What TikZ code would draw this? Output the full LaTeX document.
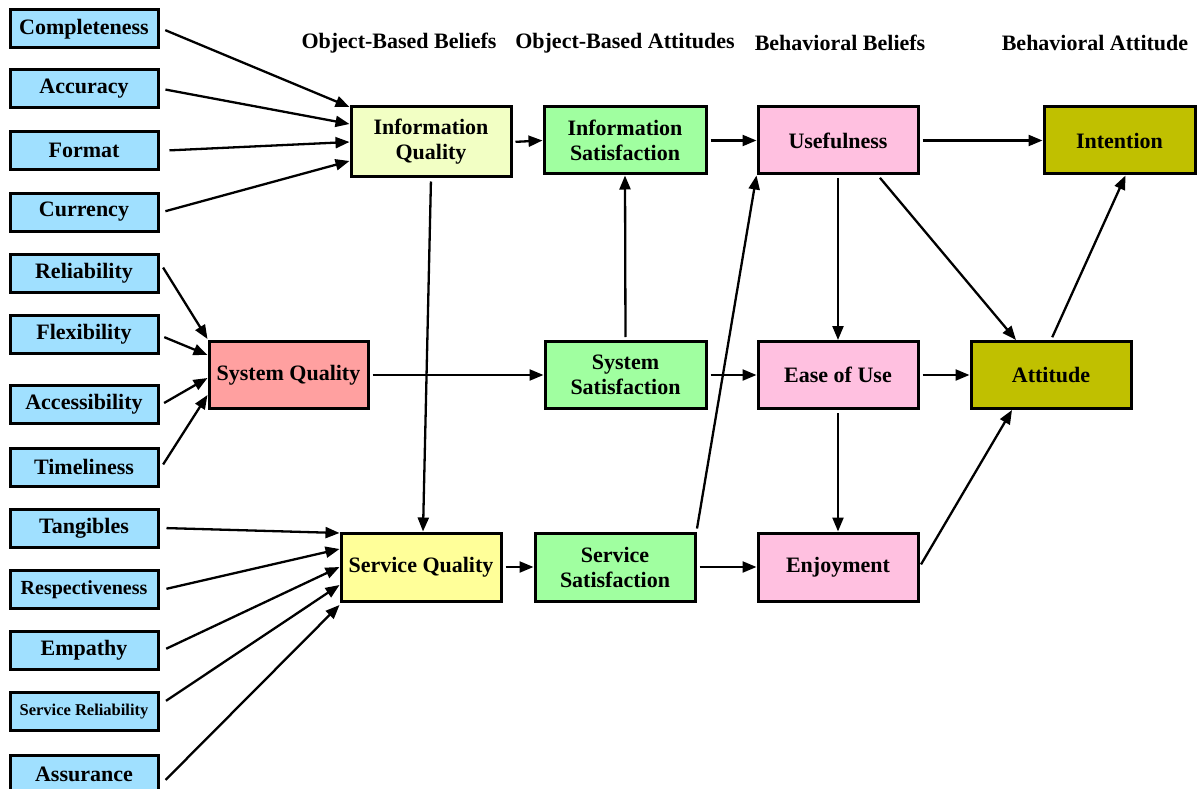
\documentclass[tikz,border=0pt]{standalone}
\usepackage{fontspec}
\setmainfont{Liberation Serif}
\usetikzlibrary{arrows.meta,calc}
\definecolor{cblue}{HTML}{A0E0FF}
\definecolor{ciq}{HTML}{F2FFC4}
\definecolor{csq}{HTML}{FFA0A0}
\definecolor{cserv}{HTML}{FFFF99}
\definecolor{cgreen}{HTML}{A0FFA0}
\definecolor{cpink}{HTML}{FFC0E0}
\definecolor{colive}{HTML}{C0C000}
\begin{document}
\begin{tikzpicture}[x=1pt,y=-1pt,
  base/.style={draw=black,line width=3pt,rectangle,inner sep=0pt,align=center,
    font=\fontsize{22}{25}\selectfont\bfseries},
  small/.style={base,fill=cblue,minimum width=148pt,minimum height=38pt},
  big/.style={base,minimum width=160pt,minimum height=68pt},
  hdr/.style={font=\fontsize{22}{25}\selectfont\bfseries,inner sep=0pt},
  arr/.style={line width=2.3pt,-{Triangle[length=14pt,width=11pt]},shorten <=3pt}
]
\useasboundingbox (0,0) rectangle (1197,789);
% headers
\node[hdr] (h1) at (399,43) {Object-Based Beliefs};
\node[hdr] (h2) at (625,43) {Object-Based Attitudes};
\node[hdr] (h3) at (840,43) {Behavioral Beliefs};
\node[hdr] (h4) at (1095,43) {Behavioral Attitude};
% left boxes
\node[small] (comp) at (84,29) {Completeness};
\node[small] (accu) at (84,89) {Accuracy};
\node[small] (form) at (84,150.5) {Format};
\node[small] (curr) at (84,212) {Currency};
\node[small] (reli) at (84,273) {Reliability};
\node[small] (flex) at (84,334) {Flexibility};
\node[small] (acce) at (84,404.5) {Accessibility};
\node[small] (time) at (84,467) {Timeliness};
\node[small] (tang) at (84,528) {Tangibles};
\node[small,font=\fontsize{20}{22}\selectfont\bfseries] (resp) at (84,589.5) {Respectiveness};
\node[small,font=\fontsize{16.5}{19}\selectfont\bfseries] (srel) at (84,711.5) {Service Reliability};
\node[small] (empa) at (84,650) {Empathy};
\node[small] (assu) at (84,774) {Assurance};
% main boxes
\node[big,fill=ciq,minimum width=160pt,minimum height=70pt] (iq) at (431,142) {Information\\Quality};
\node[big,fill=cgreen,minimum width=162pt,minimum height=67pt] (is) at (625,140.5) {Information\\Satisfaction};
\node[big,fill=cpink,minimum height=67pt] (use) at (838,140.5) {Usefulness};
\node[big,fill=colive,minimum width=151pt,minimum height=67pt] (int) at (1119.5,140.5) {Intention};
\node[big,fill=csq,minimum width=159pt,minimum height=67pt] (sq) at (288.5,375) {System Quality};
\node[big,fill=cgreen,minimum width=161pt,minimum height=67pt] (ss) at (625.5,375) {System\\Satisfaction};
\node[big,fill=cpink,minimum height=67pt] (eou) at (838,375) {Ease of Use};
\node[big,fill=colive,minimum height=67pt] (att) at (1051,375) {Attitude};
\node[big,fill=cserv,minimum width=160pt,minimum height=68pt] (svq) at (421,567) {Service Quality};
\node[big,fill=cgreen,minimum width=160pt,minimum height=68pt] (svs) at (615,567) {Service\\Satisfaction};
\node[big,fill=cpink,minimum height=68pt] (enj) at (838,567) {Enjoyment};
% inputs to Information Quality
\draw[arr] ([xshift=3pt]comp.east) -- ([yshift=35pt]iq.west);
\draw[arr] ([xshift=3pt]accu.east) -- ([yshift=18pt]iq.west);
\draw[arr] ([xshift=7pt]form.east) -- ([yshift=0pt]iq.west);
\draw[arr] ([xshift=3pt]curr.east) -- ([yshift=-19pt]iq.west);
% inputs to System Quality
\draw[arr] ([xshift=2pt,yshift=8pt]reli.east) -- ([yshift=36pt]sq.west);
\draw[arr] ([xshift=2pt,yshift=-2pt]flex.east) -- ([yshift=20pt]sq.west);
\draw[arr] ([xshift=2pt]acce.east) -- ([yshift=-3pt]sq.west);
\draw[arr] ([xshift=2pt]time.east) -- ([yshift=-20pt]sq.west);
% inputs to Service Quality
\draw[arr] ([xshift=4pt]tang.east) -- ([yshift=34pt]svq.west);
\draw[arr] ([xshift=4pt]resp.east) -- ([yshift=18pt]svq.west);
\draw[arr] ([xshift=4pt]empa.east) -- ([yshift=0pt]svq.west);
\draw[arr] ([xshift=4pt,yshift=9pt]srel.east) -- ([yshift=-18pt]svq.west);
\draw[arr] ([xshift=4pt,yshift=-8pt]assu.east) -- ([yshift=-38pt]svq.west);
% internal connectors
\draw[arr] (iq.south) -- ([xshift=2pt]svq.north);
\draw[arr] (iq.east) -- (is.west);
\draw[arr] (is.east) -- (use.west);
\draw[arr] (use.east) -- (int.west);
\draw[arr] (sq.east) -- (ss.west);
\draw[arr] (ss.north) -- (is.south);
\draw[arr] (ss.east) -- (eou.west);
\draw[arr] (eou.east) -- (att.west);
\draw[arr] (use.south) -- (eou.north);
\draw[arr] ([xshift=40pt]use.south) -- ([xshift=-35pt]att.north);
\draw[arr] (eou.south) -- (enj.north);
\draw[arr] (att.north) -- ([xshift=6pt]int.south);
\draw[arr] (enj.east) -- ([xshift=-39pt]att.south);
\draw[arr] (svs.north east) -- (use.south west);
\draw[arr] (svq.east) -- (svs.west);
\draw[arr] (svs.east) -- (enj.west);
\end{tikzpicture}
\end{document}
